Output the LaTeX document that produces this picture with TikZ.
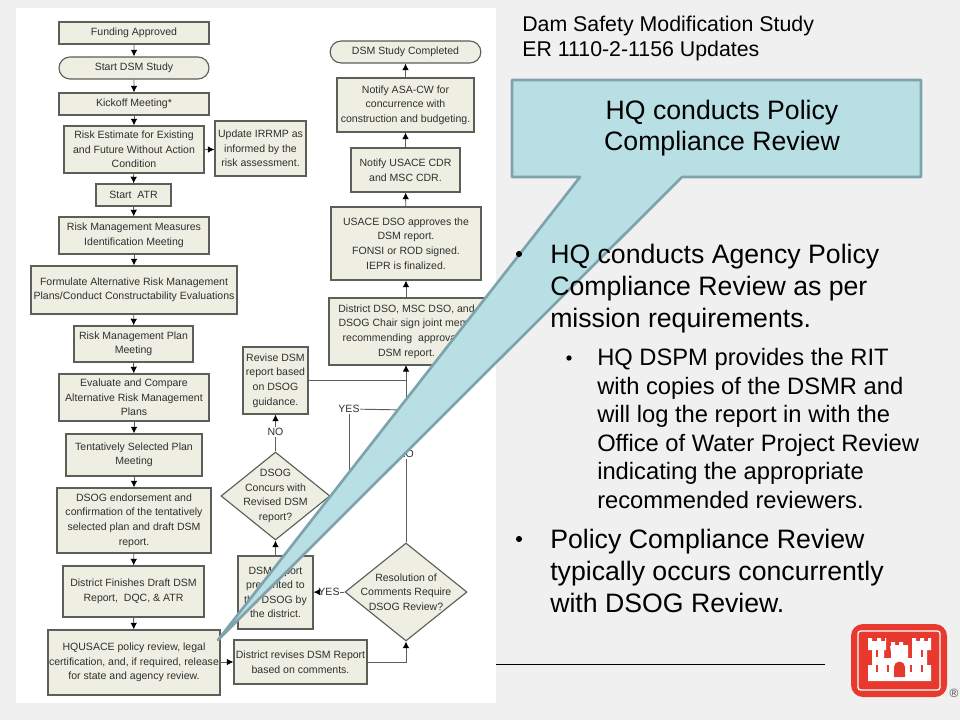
\documentclass[tikz,border=0pt]{standalone}
\usepackage{fontspec}
\setmainfont{Liberation Sans}
\usetikzlibrary{arrows.meta,shapes.geometric,shapes.misc,calc}
\definecolor{slidebg}{HTML}{F0F0F0}
\definecolor{boxfill}{HTML}{EEEEE3}
\definecolor{boxline}{HTML}{5A5F58}
\definecolor{flowtext}{HTML}{2E302E}
\definecolor{calloutfill}{HTML}{B8DFE4}
\definecolor{calloutline}{HTML}{7FA3AC}
\definecolor{logored}{HTML}{E8392F}
\newcommand{\pbox}[6]{% name, x0, y0, x1, y1, text
  \node[flowbox, minimum width=#4*0.75pt-#2*0.75pt, minimum height=#5*0.75pt-#3*0.75pt] (#1) at ({(#2+#4)/2},{(#3+#5)/2}) {#6};}
\tikzset{
  flowbox/.style={draw=boxline, fill=boxfill, line width=0.85pt, inner sep=0pt, align=center, text=flowtext,
    font=\fontsize{7.9pt}{10.9pt}\selectfont},
  flowpill/.style={flowbox, rounded rectangle},
  flowdia/.style={draw=boxline, fill=boxfill, line width=0.85pt, diamond, inner sep=0pt},
  diatext/.style={align=center, inner sep=0pt, text=flowtext, font=\fontsize{7.9pt}{10.9pt}\selectfont},
  flowarrow/.style={draw=boxline, line width=0.7pt, -{Latex[length=5pt,width=5pt,black]}},
  flowline/.style={draw=boxline, line width=0.7pt},
  flowlabel/.style={text=flowtext, inner sep=0.5pt, font=\fontsize{7.9pt}{10.9pt}\selectfont},
  headtext/.style={anchor=north west, inner sep=0pt, align=left, text=black, font=\fontsize{16pt}{18.75pt}\selectfont},
  maintext/.style={anchor=north west, inner sep=0pt, align=left, text=black, font=\fontsize{20pt}{24pt}\selectfont},
  subtext/.style={anchor=north west, inner sep=0pt, align=left, text=black, font=\fontsize{17.8pt}{21.4pt}\selectfont},
  bulletmark/.style={circle, fill=black, inner sep=0pt},
}
\begin{document}
\begin{tikzpicture}[x=0.75pt,y=-0.75pt]
\useasboundingbox (0,0) rectangle (960,720);
\fill[slidebg] (0,0) rectangle (960,720);
\fill[white] (16,8) rectangle (496,703);
\draw[black, line width=0.6pt] (496,664) coordinate (ruleA) -- (825,664) coordinate (ruleB);

% left column
\pbox{fund}{59}{22}{209}{44}{Funding Approved}
\node[flowpill, minimum width=112.5pt, minimum height=16.5pt] (start) at (134,68) {Start DSM Study};
\pbox{kick}{59}{93}{209}{115}{Kickoff Meeting*}
\pbox{risk}{64}{126}{204}{173}{Risk Estimate for Existing\\and Future Without Action\\Condition}
\pbox{irrmp}{215}{121}{306}{176}{Update IRRMP as\\informed by the\\risk assessment.}
\pbox{atr}{96}{184}{171}{206}{Start\ \ ATR}
\pbox{meas}{59}{217}{209}{254}{Risk Management Measures\\Identification Meeting}
\pbox{form}{31}{266}{237}{314}{Formulate Alternative Risk Management\\Plans/Conduct Constructability Evaluations}
\pbox{plan}{74}{326}{193}{362}{Risk Management Plan\\Meeting}
\pbox{eval}{59}{374}{209}{421}{Evaluate and Compare\\Alternative Risk Management\\Plans}
\pbox{tent}{66}{434}{202}{476}{Tentatively Selected Plan\\Meeting}
\pbox{endo}{57}{488}{211}{553}{DSOG endorsement and\\confirmation of the tentatively\\selected plan and draft DSM\\report.}
\pbox{dist}{63}{566}{204}{617}{District Finishes Draft DSM\\Report,\ \ DQC, \& ATR}
\pbox{hq}{48}{630}{220}{695}{HQUSACE policy review, legal\\certification, and, if required, release\\for state and agency review.}

% right column
\node[flowpill, minimum width=113pt, minimum height=16.5pt] (done) at (405.5,52) {DSM Study Completed};
\pbox{asa}{337}{78}{474}{132}{Notify ASA-CW for\\concurrence with\\construction and budgeting.}
\pbox{cdr}{351}{148}{460}{192}{Notify USACE CDR\\and MSC CDR.}
\pbox{dso}{331}{207}{481}{280}{USACE DSO approves the\\DSM report.\\FONSI or ROD signed.\\IEPR is finalized.}
\pbox{memo}{329}{298}{484}{365}{District DSO, MSC DSO, and\\DSOG Chair sign joint memo\\recommending\ \ approval of\\DSM report.}
\pbox{rev}{243}{347}{308}{414}{Revise DSM\\report based\\on DSOG\\guidance.}
\node[flowdia, minimum width=81.75pt, minimum height=66pt] (conc) at (275.5,496) {};
\node[diatext] (conct) at (275.5,496) {DSOG\\Concurs with\\Revised DSM\\report?};
\pbox{pres}{238}{556}{313}{629}{DSM report\\presented to\\the DSOG by\\the district.}
\node[flowdia, minimum width=91.5pt, minimum height=73.5pt] (reso) at (406,592) {};
\node[diatext] (resot) at (406,592) {Resolution of\\Comments Require\\DSOG Review?};
\pbox{revs}{234}{640}{367}{684}{District revises DSM Report\\based on comments.}

% arrows left
\draw[flowarrow] (fund) -- (start);
\draw[flowarrow] (start) -- (kick);
\draw[flowarrow] (kick) -- (risk);
\draw[flowarrow] (risk) -- (risk -| irrmp.west);
\draw[flowarrow] (risk) -- (atr);
\draw[flowarrow] (atr) -- (meas);
\draw[flowarrow] (meas) -- (form);
\draw[flowarrow] (form) -- (plan);
\draw[flowarrow] (plan) -- (eval);
\draw[flowarrow] (eval) -- (tent);
\draw[flowarrow] (tent) -- (endo);
\draw[flowarrow] (endo) -- (dist);
\draw[flowarrow] (dist) -- (hq);
\draw[flowarrow] (hq.east |- revs) -- (revs);
% arrows right
\draw[flowarrow] (asa) -- (done);
\draw[flowarrow] (cdr) -- (asa);
\draw[flowarrow] (dso) -- (cdr);
\draw[flowarrow] (memo.north -| dso) -- (dso);
\draw[flowarrow] (pres.north -| conc) -- (conc);
\draw[flowarrow] (revs.east) -| (reso.south);
\coordinate (memoin) at (406,365);
\coordinate (joinA) at (406,380);
\coordinate (joinB) at (406,410);
\coordinate (yesc) at (349,496);
\node[flowlabel] (nol) at (275.5,432) {NO};
\node[flowlabel] (yesl) at (349,409) {YES};
\node[flowlabel] (nor) at (406,454) {NO};
\node[flowlabel] (yesr) at (329,592) {YES};
\draw[flowline] (reso.north) -- (nor);
\draw[flowarrow] (nor) -- (memoin);
\draw[flowline] (rev.east |- joinA) -- (joinA);
\draw[flowline] (yesl) -- (joinB);
\draw[flowline] (yesl) -- (yesc) -- (conc.east);
\draw[flowline] (conc.north) -- (nol);
\draw[flowarrow] (nol) -- (rev);
\draw[flowline] (reso.west) -- (yesr);
\draw[flowarrow] (yesr) -- (pres);

% header
\node[headtext] (head) at (522,16) {Dam Safety Modification Study\\ER 1110-2-1156 Updates};

% callout
\filldraw[fill=calloutfill, draw=calloutline, line width=2pt, line join=round]
  (512,80) -- (921,80) -- (921,177) -- (682,177) -- (218,640) -- (580,177) -- (512,177) -- cycle;
\node[align=center, text=black, inner sep=0pt, font=\fontsize{20pt}{23.5pt}\selectfont] (calltext) at (722,128) {HQ conducts Policy\\Compliance Review};

\node[bulletmark, minimum size=4.6pt] (b1m) at (519,254) {};
\node[maintext] (b1) at (550,244) {HQ conducts Agency Policy\\Compliance Review as per\\mission requirements.};
\node[bulletmark, minimum size=4pt] (b2m) at (569,358) {};
\node[subtext] (b2) at (597,348) {HQ DSPM provides the RIT\\with copies of the DSMR and\\will log the report in with the\\Office of Water Project Review\\indicating the appropriate\\recommended reviewers.};
\node[bulletmark, minimum size=4.6pt] (b3m) at (519,539) {};
\node[maintext] (b3) at (550,529) {Policy Compliance Review\\typically occurs concurrently\\with DSOG Review.};

% logo
\fill[logored, rounded corners=9pt] (851,624) rectangle (947,697);
\draw[white, line width=1pt, rounded corners=2pt] (858,631) rectangle (940,690);
\fill[white]
 (868,681) -- (868,665) -- (872,665) -- (872,650) -- (868,650) -- (868,638) -- (872,638) -- (872,641) -- (877,641) -- (877,638) -- (881,638) -- (881,641) -- (885,641) -- (885,638) -- (886,638)
 -- (886,650) -- (884,650) -- (884,658) -- (891,658) -- (891,652) -- (890,646) -- (891,646) -- (891,642) -- (895,642) -- (895,645) -- (899,645) -- (899,642) -- (903,642) -- (903,645) -- (908,645) -- (908,658) -- (912,658) -- (912,650) -- (912,638) -- (916,638) -- (916,641) -- (920,641) -- (920,638) -- (924,638) -- (924,641) -- (928,641) -- (928,638) -- (931,638) -- (931,650) -- (927,650) -- (927,665) -- (931,665) -- (931,681) -- cycle;
\fill[logored] (894,677) -- (894,667) arc[start angle=180,end angle=0,x radius=5.5,y radius=-5.5] -- (905,677) -- cycle;
\foreach \wx in {876,887,910,921}{\fill[logored] (\wx,665) rectangle ++(2,7);}
\foreach \wx in {876,921}{\fill[logored] (\wx,650) rectangle ++(2,7);}
\node[text=black!70, inner sep=0pt, font=\fontsize{9pt}{9pt}\selectfont] (reg) at (954,693) {®};
\end{tikzpicture}
\end{document}
